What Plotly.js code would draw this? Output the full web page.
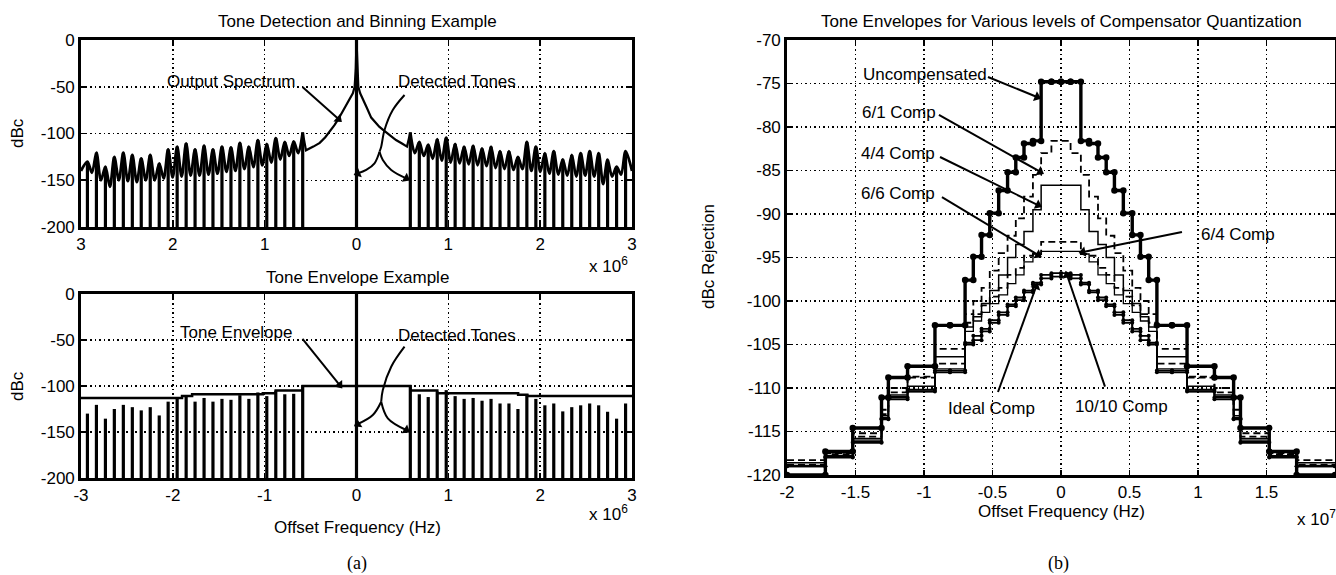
<!DOCTYPE html>
<html><head><meta charset="utf-8">
<script src="https://cdn.plot.ly/plotly-3.0.1.min.js"></script>
<style>html,body{margin:0;padding:0;background:#fff;}#chart{width:1336px;height:575px;}</style>
</head><body><div id="chart"></div>
<script>
// ---------------- DATA ----------------
// Detected tone frequencies (Hz) and levels (dBc)
const toneFreqNeg = [-2.930e6,-2.832e6,-2.734e6,-2.637e6,-2.539e6,-2.441e6,-2.344e6,-2.246e6,-2.148e6,-2.051e6,-1.953e6,-1.855e6,-1.758e6,-1.660e6,-1.563e6,-1.465e6,-1.367e6,-1.270e6,-1.172e6,-1.074e6,-0.977e6,-0.879e6,-0.781e6,-0.684e6,-0.586e6];
const toneLevelNeg = [-130,-120.5,-135.5,-125,-120.5,-123,-126.5,-123,-132,-117,-114,-110.5,-117,-113,-117,-114,-115,-110,-114,-107,-111,-105,-109,-108.5,-99];
const toneFreqPos = [0.586e6,0.684e6,0.781e6,0.879e6,0.977e6,1.074e6,1.172e6,1.270e6,1.367e6,1.465e6,1.563e6,1.660e6,1.758e6,1.855e6,1.953e6,2.051e6,2.148e6,2.246e6,2.344e6,2.441e6,2.539e6,2.637e6,2.734e6,2.832e6,2.930e6];
const toneLevelPos = [-99,-109,-112,-106,-104.5,-111,-114,-113,-116,-114,-119,-119,-125,-109,-114,-121,-119,-127.6,-123,-121,-119,-121,-128,-135.5,-119];
// Spectrum floor between tones (dBc)
const valleyNeg = [-142,-150,-157,-150,-151,-152,-150,-150,-148,-147,-146,-145,-145,-144,-143,-141,-140,-138,-136,-134,-131,-128,-124,-121];
const valleyPos = [-121,-124,-127,-129,-131,-132,-133,-134,-135,-137,-138,-139,-138,-140,-141,-143,-144,-145,-146,-145,-146,-154,-146,-144];
const specEdgeFreq = [-3.0e6, 3.0e6];
const specEdgeLevel = [-140, -140];
// Carrier skirt (Hz, dBc)
const centerFreq  = [-0.586e6,-0.55e6,-0.47e6,-0.40e6,-0.34e6,-0.29e6,-0.24e6,-0.20e6,-0.15e6,-0.11e6,-0.07e6,-0.04e6,-0.02e6,-0.008e6,0,0.008e6,0.02e6,0.04e6,0.07e6,0.11e6,0.16e6,0.20e6,0.25e6,0.30e6,0.35e6,0.43e6,0.50e6,0.55e6,0.586e6];
const centerLevel = [-99,-118,-114,-110,-104,-98,-91,-85,-76,-68,-62,-57,-50,-30,0,-30,-50,-57,-63,-72,-83,-88,-93,-97,-101,-107,-111,-114,-99];
// Tone envelope (bottom-left): bin edges (Hz) and levels (dBc)
const envEdges  = [-3.0e6,-1.90e6,-1.79e6,-1.02e6,-0.88e6,-0.586e6,0.586e6,0.88e6,1.76e6,1.86e6,3.0e6];
const envLevels = [-113,-111,-109,-108,-105,-100,-105,-108,-109.5,-111];
// Right plot: positive-side bin edges (Hz), envelopes mirrored about 0
const binEdges = [0,0.07e7,0.145e7,0.205e7,0.27e7,0.33e7,0.39e7,0.455e7,0.52e7,0.58e7,0.64e7,0.70e7,0.81e7,0.92e7,1.12e7,1.26e7,1.31e7,1.52e7,1.72e7,2.0e7];
const uncomp  = [-74.8,-74.8,-81.6,-81.9,-83.5,-85.2,-87.3,-89.9,-92.4,-94.9,-97.6,-102.8,-102.8,-107.5,-108.8,-111.1,-114.6,-117.3,-120.0];
const comp61  = [-81.6,-83.0,-85.5,-88.0,-90.5,-92.5,-94.5,-96.5,-98.5,-100.0,-101.5,-105.5,-105.5,-108.7,-110.0,-112.5,-115.2,-117.5,-118.3];
const comp44  = [-86.7,-86.7,-89.5,-92.0,-93.5,-95.0,-97.0,-98.8,-100.3,-101.8,-103.0,-106.4,-106.4,-110.4,-110.8,-113.2,-115.8,-117.8,-118.6];
const comp66  = [-93.2,-93.2,-94.6,-94.8,-96.2,-97.0,-98.5,-99.5,-100.5,-101.5,-102.5,-107.2,-107.2,-108.8,-110.5,-113.0,-115.6,-117.6,-118.8];
const comp64  = [-94.3,-94.3,-94.6,-95.5,-97.0,-98.0,-99.3,-100.3,-101.3,-102.3,-103.5,-107.8,-107.8,-109.8,-111.0,-113.4,-116.0,-117.8,-118.9];
const compIdeal = [-97.2,-97.4,-98.1,-99.0,-99.9,-100.6,-101.6,-102.5,-103.5,-104.5,-105.0,-108.2,-108.2,-110.4,-111.3,-113.6,-116.3,-118.0,-119.0];
const comp1010  = [-96.8,-97.0,-97.9,-98.8,-99.6,-100.4,-101.3,-102.2,-103.2,-104.0,-104.8,-108.0,-108.0,-110.2,-111.1,-113.5,-116.2,-117.9,-119.0];
// Tick labels
const topTickVals = [-3e6,-2e6,-1e6,0,1e6,2e6,3e6];
const topTickText = ['3','2','1','0','1','2','3'];
const botTickText = ['-3','-2','-1','0','1','2','3'];
const leftYVals = [0,-50,-100,-150,-200];
const leftYText = ['0','-50','-100','-150','-200'];
const rightXVals = [-2e7,-1.5e7,-1e7,-0.5e7,0,0.5e7,1e7,1.5e7,2e7];
const rightXText = ['-2','-1.5','-1','-0.5','0','0.5','1','1.5','2'];
const rightYVals = [-70,-75,-80,-85,-90,-95,-100,-105,-110,-115,-120];
const rightYText = ['-70','-75','-80','-85','-90','-95','-100','-105','-110','-115','-120'];
// Pointer paths for the labels (data coords; last point = arrow tip)
const ptrOutSpec   = {x:[-0.588e6,-0.196e6], y:[-50.3,-84.5]};
const dtTopStem    = {x:[0.523e6,0.395e6,0.305e6,0.269e6,0.2505e6], y:[-58.8,-74.9,-96.3,-114.1,-119.5]};
const dtTopLeft    = {x:[0.2505e6,0.196e6,0.106e6,0.014e6], y:[-119.5,-131.9,-139,-142.6]};
const dtTopRight   = {x:[0.2505e6,0.2865e6,0.378e6,0.541e6], y:[-119.5,-128.3,-139,-147.9]};
const ptrToneEnv   = {x:[-0.588e6,-0.185e6], y:[-48.9,-98.9]};
const dtBotStem    = {x:[0.523e6,0.378e6,0.2865e6,0.269e6], y:[-57.3,-79.0,-104.3,-117.1]};
const dtBotLeft    = {x:[0.269e6,0.1776e6,0.014e6], y:[-117.1,-131.5,-141.3]};
const dtBotRight   = {x:[0.269e6,0.341e6,0.5414e6], y:[-117.1,-135.1,-147.8]};
const ptrUncomp = {x:[-0.533e7,-0.175e7], y:[-74.25,-76.55]};
const ptr61     = {x:[-0.891e7,-0.153e7], y:[-78.62,-85.14]};
const ptr44     = {x:[-0.883e7,-0.168e7], y:[-83.45,-88.97]};
const ptr66     = {x:[-0.869e7,-0.168e7], y:[-88.05,-94.71]};
const ptr64     = {x:[0.883e7,0.161e7],   y:[-92.07,-94.37]};
const ptrIdeal  = {x:[-0.460e7,-0.182e7], y:[-110.46,-98.36]};
const ptr1010   = {x:[0.321e7,0.044e7],   y:[-109.85,-97.01]};

// ---------------- BUILD ----------------
const W=1336, H=575;
const FONT = 'Liberation Sans, Arial, Helvetica, sans-serif';
const FS = 17;
function px(x){return x/W;} function py(y){return 1-y/H;}

function stems(fs, ls){const x=[],y=[];fs.forEach((f,i)=>{x.push(f,f,null);y.push(-200,ls[i],null);});return {x,y};}
function ripple(fs, ls, vs, edgeF, edgeL, edgeFirst){
  const x=[],y=[];
  if(edgeFirst){x.push(edgeF);y.push(edgeL);}
  fs.forEach((f,i)=>{x.push(f);y.push(ls[i]); if(i<vs.length){x.push((f+fs[i+1])/2);y.push(vs[i]);}});
  if(!edgeFirst){x.push(edgeF);y.push(edgeL);}
  return {x,y};
}
function steps(edges, levels){const x=[],y=[];levels.forEach((l,i)=>{x.push(edges[i],edges[i+1]);y.push(l,l);});return {x,y};}
function mirrorStair(levels){const x=[],y=[];
  for(let i=levels.length-1;i>=0;i--){x.push(-binEdges[i+1],-binEdges[i]);y.push(levels[i],levels[i]);}
  for(let i=0;i<levels.length;i++){x.push(binEdges[i],binEdges[i+1]);y.push(levels[i],levels[i]);}
  return {x,y};}

const blk='#000';
const traces=[];
function L(x,y,xa,ya,line,marker){const t={x:x,y:y,xaxis:xa,yaxis:ya,type:'scatter',mode:marker?'lines+markers':'lines',line:line,hoverinfo:'skip',cliponaxis:false};if(marker)t.marker=marker;traces.push(t);}
function P(p,xa,ya,head,shape){
  const n=p.x.length;
  const marker = head ? {symbol:p.x.map((_,i)=>i===n-1?'triangle-up':'circle'), size:p.x.map((_,i)=>i===n-1?9:0), angleref:'previous', color:blk, opacity:1, line:{width:0}} : null;
  L(p.x,p.y,xa,ya,{color:blk,width:2,shape:shape||'linear'},marker);
}
// Top-left
const allF = toneFreqNeg.concat([0],toneFreqPos), allL = toneLevelNeg.concat([0],toneLevelPos);
const sTop = stems(allF, allL);
L(sTop.x,sTop.y,'x','y',{color:blk,width:3.2});
const rl = ripple(toneFreqNeg,toneLevelNeg,valleyNeg,specEdgeFreq[0],specEdgeLevel[0],true);
const rr = ripple(toneFreqPos,toneLevelPos,valleyPos,specEdgeFreq[1],specEdgeLevel[1],false);
L(rl.x,rl.y,'x','y',{color:blk,width:2.8,shape:'spline',smoothing:0.9});
L(rr.x,rr.y,'x','y',{color:blk,width:2.8,shape:'spline',smoothing:0.9});
L(centerFreq,centerLevel,'x','y',{color:blk,width:2.2});
P(ptrOutSpec,'x','y',true);
P(dtTopStem,'x','y',false,'spline'); P(dtTopLeft,'x','y',true,'spline'); P(dtTopRight,'x','y',true,'spline');
// Bottom-left
const sBot = stems(allF, allL);
L(sBot.x,sBot.y,'x2','y2',{color:blk,width:3.2});
const env = steps(envEdges, envLevels);
L(env.x,env.y,'x2','y2',{color:blk,width:2.5});
P(ptrToneEnv,'x2','y2',true);
P(dtBotStem,'x2','y2',false,'spline'); P(dtBotLeft,'x2','y2',true,'spline'); P(dtBotRight,'x2','y2',true,'spline');
// Right
const R=[
  {d:comp1010, line:{color:blk,width:1.8}, marker:{size:4,color:blk}},
  {d:compIdeal, line:{color:blk,width:1.8}, marker:{size:4,color:blk}},
  {d:comp64, line:{color:blk,width:1.3}},
  {d:comp66, line:{color:blk,width:1.8,dash:'7px,4px'}},
  {d:comp44, line:{color:blk,width:1.5}},
  {d:comp61, line:{color:blk,width:1.8,dash:'7px,4px'}},
  {d:uncomp, line:{color:blk,width:3.4}, marker:{size:6.5,color:blk}}
];
R.forEach(r=>{const s=mirrorStair(r.d);const t={x:s.x,y:s.y,xaxis:'x3',yaxis:'y3',type:'scatter',mode:r.marker?'lines+markers':'lines',line:r.line,hoverinfo:'skip'};if(r.marker)t.marker=r.marker;traces.push(t);});
[ptrUncomp,ptr61,ptr44,ptr66,ptr64,ptrIdeal,ptr1010].forEach(p=>P(p,'x3','y3',true));

// axes
function ax(extra){return Object.assign({showline:true,linewidth:2.8,linecolor:blk,mirror:'ticks',ticks:'inside',ticklen:5,tickwidth:1.6,tickcolor:blk,
  showgrid:true,gridcolor:blk,gridwidth:1.5,griddash:'1.5px,3px',zeroline:false,fixedrange:true,
  tickfont:{family:FONT,size:FS,color:blk}},extra);}
const layout={
  width:W,height:H,margin:{l:0,r:0,t:0,b:0},paper_bgcolor:'#fff',plot_bgcolor:'#fff',showlegend:false,
  xaxis: ax({domain:[px(81),px(632)],anchor:'y',range:[-3e6,3e6],tickmode:'array',tickvals:topTickVals,ticktext:topTickText}),
  yaxis: ax({domain:[py(227),py(40)],anchor:'x',range:[-200,0],tickmode:'array',tickvals:leftYVals,ticktext:leftYText}),
  xaxis2: ax({domain:[px(81),px(632)],anchor:'y2',range:[-3e6,3e6],tickmode:'array',tickvals:topTickVals,ticktext:botTickText}),
  yaxis2: ax({domain:[py(478),py(294)],anchor:'x2',range:[-200,0],tickmode:'array',tickvals:leftYVals,ticktext:leftYText}),
  xaxis3: ax({domain:[px(787),px(1335)],anchor:'y3',range:[-2e7,2e7],tickmode:'array',tickvals:rightXVals,ticktext:rightXText}),
  yaxis3: ax({domain:[py(475),py(40)],anchor:'x3',range:[-120,-70],tickmode:'array',tickvals:rightYVals,ticktext:rightYText}),
  annotations:[]
};
const A=layout.annotations;
function ptxt(text,x,y,opt){A.push(Object.assign({text:text,xref:'paper',yref:'paper',x:px(x),y:py(y),xanchor:'center',yanchor:'middle',showarrow:false,font:{family:FONT,size:FS,color:blk}},opt||{}));}
function dtxt(text,xr,yr,x,y){A.push({text:text,xref:xr,yref:yr,x:x,y:y,xanchor:'center',yanchor:'middle',showarrow:false,font:{family:FONT,size:FS,color:blk}});}

// titles & labels
ptxt('Tone Detection and Binning Example',357,22);
ptxt('Tone Envelope Example',357,277);
ptxt('Tone Envelopes for Various levels of Compensator Quantization',1061,22);
ptxt('dBc',17,133,{textangle:-90});
ptxt('dBc',17,386,{textangle:-90});
ptxt('Offset Frequency (Hz)',357,527);
ptxt('dBc Rejection',708,257,{textangle:-90});
ptxt('Offset Frequency (Hz)',1061,511);
ptxt('x 10<sup>6</sup>',608,265);
ptxt('x 10<sup>6</sup>',608,513);
ptxt('x 10<sup>7</sup>',1316,518);
ptxt('(a)',357,563,{font:{family:'Liberation Serif, Times New Roman, serif',size:18,color:blk}});
ptxt('(b)',1058,563,{font:{family:'Liberation Serif, Times New Roman, serif',size:18,color:blk}});

// plot labels
dtxt('Output Spectrum','x','y',-1.362e6,-44.9);
dtxt('Detected Tones','x','y',1.089e6,-44.9);
dtxt('Tone Envelope','x2','y2',-1.307e6,-41.3);
dtxt('Detected Tones','x2','y2',1.089e6,-44.6);
dtxt('Uncompensated','x3','y3',-0.996e7,-74.02);
dtxt('6/1 Comp','x3','y3',-1.186e7,-78.39);
dtxt('4/4 Comp','x3','y3',-1.19e7,-82.99);
dtxt('6/6 Comp','x3','y3',-1.19e7,-87.59);
dtxt('6/4 Comp','x3','y3',1.292e7,-92.41);
dtxt('Ideal Comp','x3','y3',-0.507e7,-112.3);
dtxt('10/10 Comp','x3','y3',0.445e7,-112.18);

Plotly.newPlot('chart',traces,layout,{staticPlot:true,displayModeBar:false});
</script></body></html>
